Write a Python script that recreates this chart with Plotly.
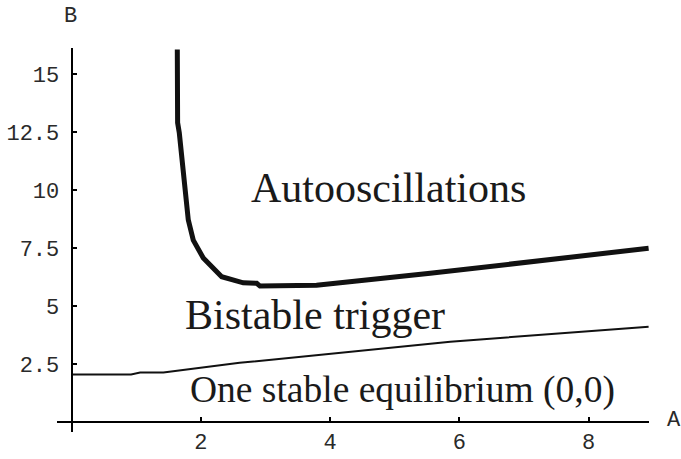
import plotly.graph_objects as go

# Upper boundary (thick): onset of autooscillations
upper_A = [1.635, 1.627, 1.64, 1.666, 1.712, 1.754, 1.805, 1.882, 2.037, 2.322, 2.656, 2.864, 2.915, 3.79, 5.55, 8.93]
upper_B = [16.06, 13.45, 12.9, 12.46, 11.29, 9.87, 8.71, 7.84, 7.07, 6.26, 6.0, 5.98, 5.86, 5.9, 6.41, 7.49]

# Lower boundary (thin): bistability onset
lower_A = [0.0, 0.92, 1.06, 1.42, 2.6, 5.86, 8.93]
lower_B = [2.05, 2.05, 2.13, 2.13, 2.55, 3.46, 4.11]

x_ticks = [2, 4, 6, 8]
y_ticks = [2.5, 5, 7.5, 10, 12.5, 15]
y_tick_text = ["2.5", "5", "7.5", "10", "12.5", "15"]

region_labels = ["Autooscillations", "Bistable trigger", "One stable equilibrium (0,0)"]
label_A = [4.9, 3.76, 5.12]
label_B = [10.08, 4.62, 1.4]
label_size = [42, 42, 37.5]

x_range = [-0.227, 8.936]
y_range = [-0.43, 16.12]

fig = go.Figure()
fig.add_trace(go.Scatter(x=upper_A, y=upper_B, mode="lines",
                         line=dict(color="#111111", width=5), hoverinfo="skip"))
fig.add_trace(go.Scatter(x=lower_A, y=lower_B, mode="lines",
                         line=dict(color="#111111", width=2), hoverinfo="skip"))

for t, xa, yb, fs in zip(region_labels, label_A, label_B, label_size):
    fig.add_annotation(x=xa, y=yb, text=t, showarrow=False,
                       xanchor="center", yanchor="middle",
                       font=dict(family="Liberation Serif", size=fs, color="#1a1a1a"))

mono = dict(family="Liberation Mono", size=22, color="#2a2a2a")
fig.add_annotation(xref="paper", yref="paper", x=0.0236, y=1.083, text="B",
                   showarrow=False, xanchor="center", yanchor="middle", font=mono)
fig.add_annotation(xref="paper", yref="paper", x=1.042, y=0.03, text="A",
                   showarrow=False, xanchor="center", yanchor="middle", font=mono)

x_pos = (0 - y_range[0]) / (y_range[1] - y_range[0])
y_pos = (0 - x_range[0]) / (x_range[1] - x_range[0])

fig.update_layout(
    width=681, height=459,
    margin=dict(l=57, r=32, t=48, b=27, autoexpand=False),
    paper_bgcolor="white", plot_bgcolor="white",
    showlegend=False,
    xaxis=dict(range=x_range, anchor="free", position=x_pos, automargin=False,
               showgrid=False, zeroline=False, showline=True,
               linecolor="black", linewidth=2,
               ticks="inside", ticklen=4, tickwidth=1.5, tickcolor="black",
               tickvals=x_ticks, ticktext=[str(v) for v in x_ticks],
               tickfont=mono, ticklabelstandoff=0),
    yaxis=dict(range=y_range, anchor="free", position=y_pos, automargin=False,
               showgrid=False, zeroline=False, showline=True,
               linecolor="black", linewidth=2,
               ticks="inside", ticklen=4, tickwidth=1.5, tickcolor="black",
               tickvals=y_ticks, ticktext=y_tick_text,
               tickfont=mono, ticklabelstandoff=7),
)

fig.write_html("out.html")
